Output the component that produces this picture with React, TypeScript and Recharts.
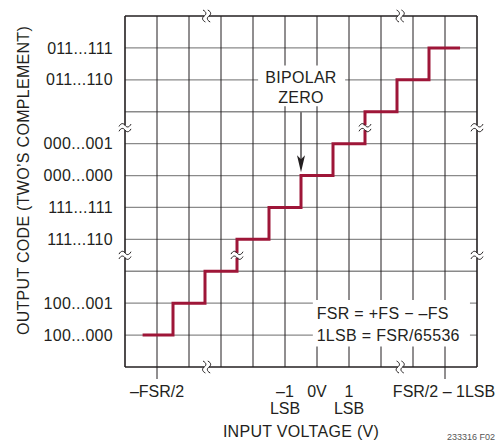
import { LineChart, Line, XAxis, YAxis, ReferenceLine, ReferenceArea, ReferenceDot } from "recharts";

// input steps (in LSB-ish grid units) and output code index
const stepX = [0.55, 1.5, 2.5, 3.5, 4.5, 5.5, 6.5, 7.5, 8.5, 9.5, 10.47];
const stepCode = [1, 2, 3, 4, 5, 6, 7, 8, 9, 10, 10];

const gridValues = [1, 2, 3, 4, 5, 6, 7, 8, 9, 10];

const yTickValues = [1, 2, 4, 5, 6, 7, 9, 10];
const yTickLabels = ["100...000", "100...001", "111...110", "111...111", "000...000", "000...001", "011...110", "011...111"];

const xTickValues = [1, 5, 6, 7, 10];
const xTickLabels = [["\u2013FSR/2"], ["\u20131", "LSB"], ["0V"], ["1", "LSB"], ["FSR/2 \u2013 1LSB"]];

const xBreaks = [2.55, 8.6];
const yBreaks = [3.5, 7.5];
const stepBreaks = [[3.5, 3.5], [7.5, 7.5]];

const data = stepX.map((x, i) => ({ x, code: stepCode[i] }));

const FONT = "'Liberation Sans', Arial, sans-serif";
const FS = 16;
const LS = 0.3;
const INK = "#231f20";
const RED = "#9e1638";

function XTick(props: any) {
  const { x, y, payload } = props;
  const i = xTickValues.indexOf(payload.value);
  const lines = xTickLabels[i] || [];
  const long = i === 0 || i === xTickLabels.length - 1;
  return (
    <g>
      {long && <line x1={x} x2={x} y1={y} y2={y + 12} stroke={INK} strokeWidth={1} />}
      {lines.map((t, j) => (
        <text key={j} x={i === xTickLabels.length - 1 ? x - 1 : x} y={y + 30 + j * 17} textAnchor="middle" fontSize={FS} fontFamily={FONT} fill={INK}>
          {t}
        </text>
      ))}
    </g>
  );
}

const wave = "M-6,1.2 C-4,-2.6 -1.5,-2.2 0,0 S4,2.6 6,-1.2";

function BreakMark(vertical: boolean) {
  return (p: any) => (
    <g transform={`translate(${p.cx},${p.cy}) rotate(${vertical ? 90 : 0})`}>
      <rect x={-7} y={-2.4} width={14} height={4.8} fill="#fff" />
      <path d={wave} transform="translate(0,-2.4)" fill="none" stroke={INK} strokeWidth={1} />
      <path d={wave} transform="translate(0,2.4)" fill="none" stroke={INK} strokeWidth={1} />
    </g>
  );
}

export default function App() {
  return (
    <div style={{ position: "absolute", left: 0, top: 0 }}>
      <LineChart width={496} height={441} data={data} margin={{ top: 16, right: 19, left: 0, bottom: 14 }}>
        <XAxis
          dataKey="x"
          type="number"
          domain={[0, 11]}
          ticks={xTickValues}
          axisLine={false}
          tickLine={false}
          tickSize={0}
          tickMargin={0}
          height={60}
          tick={<XTick />}
          interval={0}
          label={{
            content: (p: any) => {
              const vb = p.viewBox;
              return (
                <g>
                  <text x={vb.x + vb.width / 2} y={vb.y + 70} textAnchor="middle" fontSize={FS} letterSpacing={LS} fontFamily={FONT} fill={INK}>
                    INPUT VOLTAGE (V)
                  </text>
                  <text x={495} y={440} textAnchor="end" fontSize={9} fontFamily={FONT} fill="#555">
                    233316 F02
                  </text>
                </g>
              );
            },
          }}
        />
        <YAxis
          type="number"
          domain={[0, 11]}
          ticks={yTickValues}
          interval={0}
          width={125}
          axisLine={false}
          tickLine={false}
          tickSize={0}
          tickMargin={12}
          tickFormatter={(v: number) => yTickLabels[yTickValues.indexOf(v)]}
          tick={{ fontSize: FS, fontFamily: FONT, fill: INK, letterSpacing: LS }}
          label={{
            content: (p: any) => {
              const vb = p.viewBox;
              const cx = 23;
              const cy = vb.y + vb.height / 2 - 11;
              return (
                <text x={cx} y={cy} transform={`rotate(-90 ${cx} ${cy})`} textAnchor="middle" dominantBaseline="central" fontSize={FS} letterSpacing={LS} fontFamily={FONT} fill={INK}>
                  OUTPUT CODE (TWO’S COMPLEMENT)
                </text>
              );
            },
          }}
        />

        {gridValues.map((v) => (
          <ReferenceLine key={"h" + v} y={v} stroke="#8a8a8a" strokeWidth={1.3} zIndex={10} />
        ))}
        {gridValues.map((v) => (
          <ReferenceLine key={"v" + v} x={v} stroke={INK} strokeWidth={1} zIndex={10} />
        ))}
        <ReferenceLine x={0} stroke={INK} strokeWidth={1.6} zIndex={20} />
        <ReferenceLine x={11} stroke={INK} strokeWidth={1.6} zIndex={20} />
        <ReferenceLine y={0} stroke={INK} strokeWidth={1.6} zIndex={20} />
        <ReferenceLine y={11} stroke={INK} strokeWidth={1.6} zIndex={20} />

        <ReferenceArea x1={4.16} x2={6.88} y1={8.17} y2={9.45} fill="#fff" fillOpacity={1} stroke="none" zIndex={30} />
        <ReferenceArea x1={5.87} x2={10.78} y1={0.64} y2={2.1} fill="#fff" fillOpacity={1} stroke="none" zIndex={30} />

        <Line dataKey="code" type="stepAfter" stroke={RED} strokeWidth={3} dot={false} activeDot={false} isAnimationActive={false} />

        {xBreaks.map((v) => (
          <ReferenceDot key={"bt" + v} x={v} y={11} r={0} shape={BreakMark(true)} zIndex={700} />
        ))}
        {xBreaks.map((v) => (
          <ReferenceDot key={"bb" + v} x={v} y={0} r={0} shape={BreakMark(true)} zIndex={700} />
        ))}
        {yBreaks.map((v) => (
          <ReferenceDot key={"bl" + v} x={0} y={v} r={0} shape={BreakMark(false)} zIndex={700} />
        ))}
        {yBreaks.map((v) => (
          <ReferenceDot key={"br" + v} x={11} y={v} r={0} shape={BreakMark(false)} zIndex={700} />
        ))}
        {stepBreaks.map(([x, y]) => (
          <ReferenceDot key={"bs" + x} x={x} y={y} r={0} shape={BreakMark(false)} zIndex={700} />
        ))}

        <ReferenceDot
          x={5.5}
          y={8.77}
          r={0}
          zIndex={800}
          shape={(p: any) => (
            <g fontSize={FS} letterSpacing={LS} fontFamily={FONT} fill={INK} textAnchor="middle">
              <text x={p.cx} y={p.cy - 10 + 5.7}>BIPOLAR</text>
              <text x={p.cx} y={p.cy + 10 + 5.7}>ZERO</text>
            </g>
          )}
        />
        <ReferenceDot
          x={5.5}
          y={6.1}
          r={0}
          zIndex={800}
          shape={(p: any) => (
            <g>
              <line x1={p.cx} x2={p.cx} y1={p.cy - 60} y2={p.cy - 12} stroke={INK} strokeWidth={1.2} />
              <polygon
                points={`${p.cx - 4},${p.cy - 17} ${p.cx},${p.cy - 13} ${p.cx + 4},${p.cy - 17} ${p.cx},${p.cy}`}
                fill={INK}
              />
            </g>
          )}
        />
        <ReferenceDot
          x={5.99}
          y={1.35}
          r={0}
          zIndex={800}
          shape={(p: any) => (
            <g fontSize={FS} letterSpacing={LS} fontFamily={FONT} fill={INK}>
              <text x={p.cx} y={p.cy - 11 + 5.7}>FSR = +FS − –FS</text>
              <text x={p.cx} y={p.cy + 11 + 5.7}>1LSB = FSR/65536</text>
            </g>
          )}
        />
      </LineChart>
    </div>
  );
}
